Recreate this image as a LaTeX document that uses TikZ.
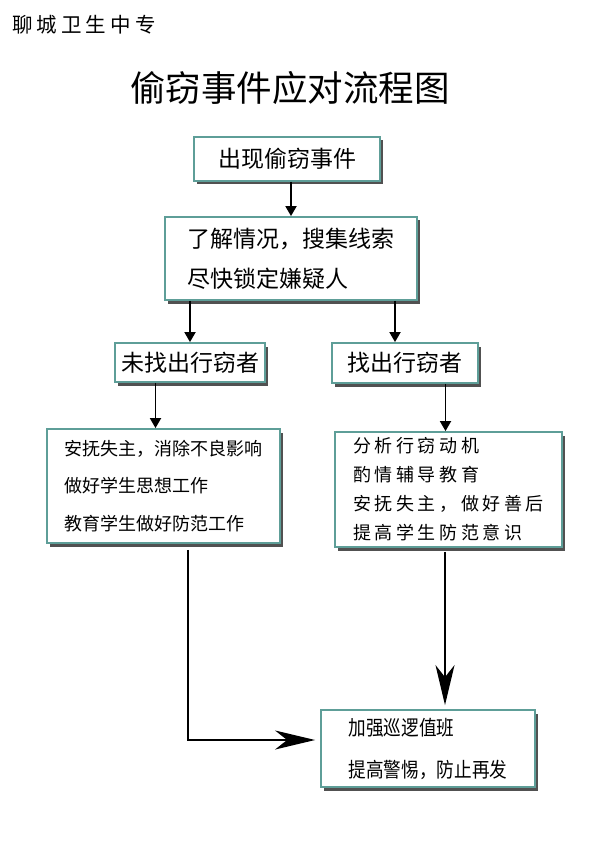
\documentclass[tikz,border=0pt]{standalone}
\usepackage{fontspec}
\setmainfont{Noto Sans CJK SC}
\newfontfamily\spacedcjk[LetterSpace=20]{Noto Sans CJK SC}
\newfontfamily\narrowcjk[FakeStretch=0.86]{Noto Sans CJK SC}
\usepackage{xcolor}
\usepackage{tikz}
\usetikzlibrary{arrows.meta, shadows}
\definecolor{boxedge}{HTML}{5E9E98}

\begin{document}
\begin{tikzpicture}[
  x=1pt, y=-1pt,
  box/.style={draw=boxedge, line width=1.8pt, fill=white, align=left, inner sep=0pt,
    drop shadow={shadow xshift=2.5pt, shadow yshift=-3.5pt, fill=black!80, opacity=0.85}},
  big/.style={font=\fontsize{23pt}{40pt}\selectfont},
  arr/.style={-{Triangle[length=10pt, width=11pt]}, line width=1.8pt},
  longarr/.style={-{Stealth[length=40pt, width=19pt, inset=12pt]}, line width=2pt},
]
\path[fill=white, use as bounding box] (0,0) rectangle (595,842);

\node[anchor=west, inner sep=0pt, font=\spacedcjk\fontsize{20.5pt}{21pt}\selectfont] (school) at (12,25) {聊城卫生中专};
\node[font=\fontsize{35.5pt}{36pt}\selectfont] (title) at (290,88) {偷窃事件应对流程图};

\node[box, big, minimum width=186pt, minimum height=44pt] (theft) at (287,159) {出现偷窃事件};
\node[box, big, minimum width=252pt, minimum height=83pt] (inquiry) at (291,258.5) {了解情况，搜集线索\\尽快锁定嫌疑人};
\node[box, big, minimum width=150pt, minimum height=39pt] (notfound) at (190,362.5) {未找出行窃者};
\node[box, big, minimum width=146pt, minimum height=40pt] (found) at (405,363) {找出行窃者};
\node[box, font=\fontsize{18pt}{37.5pt}\selectfont, minimum width=233pt, minimum height=114pt] (calm) at (163.5,486) {安抚失主，消除不良影响\\做好学生思想工作\\教育学生做好防范工作};
\node[box, font=\spacedcjk\fontsize{18pt}{29pt}\selectfont, minimum width=227pt, minimum height=115pt] (counsel) at (448.5,489.5) {分析行窃动机\\酌情辅导教育\\安抚失主，做好善后\\提高学生防范意识};
\node[box, font=\narrowcjk\fontsize{20.5pt}{42pt}\selectfont, minimum width=214pt, minimum height=77pt] (patrol) at (428,748.5) {加强巡逻值班\\提高警惕，防止再发};

\coordinate (foundin) at ([xshift=-10pt]found.north);
\coordinate (calmin) at ([xshift=-8pt]calm.north);
\coordinate (counselin) at ([xshift=-3pt]counsel.north);
\coordinate (calmout) at ([xshift=24.5pt]calm.south);
\coordinate (patrolin) at ([yshift=8.5pt]patrol.west);
\coordinate (patroltop) at ([xshift=17pt]patrol.north);

\draw[arr] (theft.south -| inquiry.north) -- (inquiry.north);
\draw[arr] (notfound.north |- inquiry.south) -- (notfound.north);
\draw[arr] (foundin |- inquiry.south) -- (foundin);
\draw[arr] (calmin |- notfound.south) -- (calmin);
\draw[arr] (counselin |- found.south) -- (counselin);
\draw[longarr, shorten <=6pt, shorten >=5pt] (calmout) |- (patrolin);
\draw[longarr, shorten <=4pt, shorten >=4pt] (patroltop |- counsel.south) -- (patroltop);
\end{tikzpicture}
\end{document}
